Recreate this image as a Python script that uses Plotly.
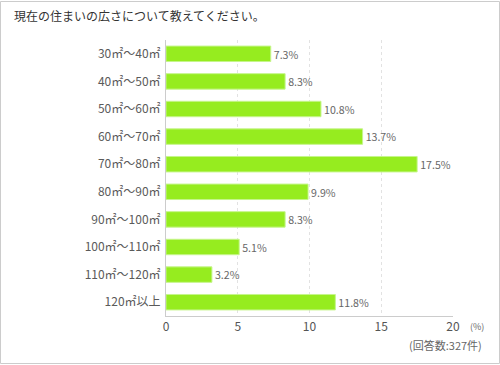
import plotly.graph_objects as go

categories = ["30㎡〜40㎡", "40㎡〜50㎡", "50㎡〜60㎡", "60㎡〜70㎡", "70㎡〜80㎡",
              "80㎡〜90㎡", "90㎡〜100㎡", "100㎡〜110㎡", "110㎡〜120㎡", "120㎡以上"]
values = [7.3, 8.3, 10.8, 13.7, 17.5, 9.9, 8.3, 5.1, 3.2, 11.8]
x_ticks = [0, 5, 10, 15, 20]
title_text = "現在の住まいの広さについて教えてください。"
note_text = "(回答数:327件)"
unit_text = "(%)"

FONT = "Noto Sans CJK JP, sans-serif"
PW, PH = 287, 276  # plot area size in px

fig = go.Figure(go.Bar(
    y=categories, x=values, orientation="h",
    marker=dict(color="#96EC1F", line=dict(color="#C6F58C", width=1)),
    width=0.56,
    text=[f"{v}%" for v in values], textposition="outside",
    textfont=dict(family=FONT, size=11, color="#666666"),
    cliponaxis=False,
))

fig.update_layout(
    width=500, height=365,
    margin=dict(l=166, r=47, t=40, b=49, autoexpand=False),
    paper_bgcolor="white", plot_bgcolor="white",
    showlegend=False,
    font=dict(family=FONT, color="#555555"),
    xaxis=dict(range=[0, 20], tickvals=x_ticks, ticktext=[str(t) for t in x_ticks],
               showgrid=True, gridcolor="#E2E2E2", griddash="dot", gridwidth=1,
               zeroline=False, showline=True, linecolor="#CCCCCC", linewidth=1,
               tickfont=dict(size=12, color="#555555"), ticks="", ticklen=0),
    yaxis=dict(autorange="reversed", showline=True, linecolor="#CCCCCC", linewidth=1,
               showgrid=False, tickfont=dict(size=12, color="#5A5A5A"), ticks="",
               ticklabelstandoff=2),
    annotations=[
        dict(text=title_text, xref="paper", yref="paper", x=(12-166)/PW, y=1+25/PH,
             xanchor="left", yanchor="middle", showarrow=False,
             font=dict(size=12, color="#333333", family=FONT)),
        dict(text=unit_text, xref="paper", yref="paper", x=(468-166)/PW, y=-10/PH,
             xanchor="left", yanchor="middle", showarrow=False,
             font=dict(size=9, color="#666666", family=FONT)),
        dict(text=note_text, xref="paper", yref="paper", x=(484-166)/PW, y=-29/PH,
             xanchor="right", yanchor="middle", showarrow=False,
             font=dict(size=11, color="#666666", family=FONT)),
    ],
)

# outer border of the image
fig.add_shape(type="rect", xref="paper", yref="paper",
              x0=(0.5-166)/PW, x1=(499.5-166)/PW, y0=-(49-1.5)/PH, y1=1+(40-1.5)/PH,
              line=dict(color="#CCCCCC", width=1), layer="below")

fig.write_html("out.html", config={"displayModeBar": False},
               post_script="document.body.style.margin='0';document.body.style.padding='0';")
